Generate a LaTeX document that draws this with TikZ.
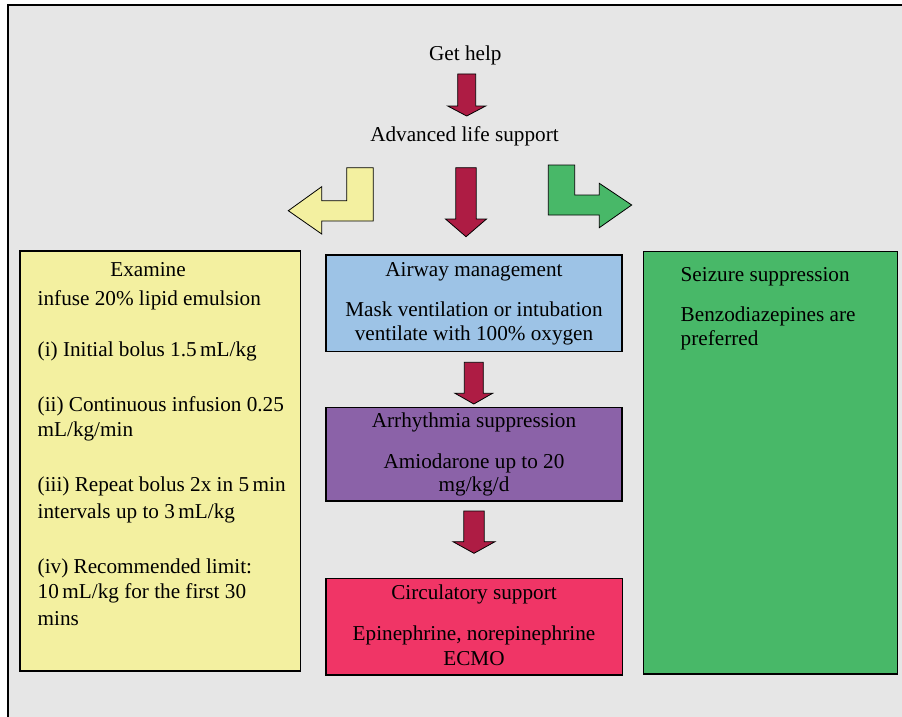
\documentclass[tikz,border=0pt]{standalone}
\usepackage{fontspec}
\setmainfont{Liberation Serif}
\definecolor{bgc}{RGB}{230,230,230}
\definecolor{yellowc}{RGB}{243,240,160}
\definecolor{bluec}{RGB}{157,195,230}
\definecolor{purplec}{RGB}{139,98,168}
\definecolor{pinkc}{RGB}{240,53,102}
\definecolor{greenc}{RGB}{72,184,104}
\definecolor{redc}{RGB}{174,28,68}
\tikzset{
  box/.style={draw=black, line width=1.2pt, inner sep=0pt, outer sep=0pt, anchor=north west},
  blockarrow/.style={draw=black, line width=0.8pt, line join=miter},
  lbl/.style={inner sep=0pt, outer sep=0pt, anchor=base},
  lblw/.style={inner sep=0pt, outer sep=0pt, anchor=base west}
}
\newcommand\blockdown[6]{% cx, top, headstart, tip, shaft half, head half
  \draw[blockarrow, fill=redc] ({#1-#5},#2) -- ({#1+#5},#2) -- ({#1+#5},#3) -- ({#1+#6},#3)
    -- (#1,#4) -- ({#1-#6},#3) -- ({#1-#5},#3) -- cycle;}
\begin{document}
\begin{tikzpicture}[x=1pt, y=-1pt, font=\fontsize{21.2}{25}\selectfont]
\useasboundingbox (0,0) rectangle (902,717);
\fill[white] (0,0) rectangle (902,717);
\fill[bgc] (8,5) rectangle (902,717);
\draw[line width=1.5pt] (8,717) -- (8,5) -- (902,5);

% top texts
\node[lbl] (gethelp) at (465.3,60.7) {Get help};
\node[lbl] (als) at (464.5,141.7) {Advanced life support};

% arrows
\blockdown{466.7}{74}{106}{116}{9}{19}
\blockdown{466}{167.7}{219}{236.7}{10.2}{20.5}
\blockdown{473.8}{362.3}{393.3}{404}{9.5}{18.8}
\blockdown{474}{511}{541.7}{553.3}{10.2}{21}

\draw[blockarrow, fill=yellowc] (373.3,167.7) -- (346.7,167.7) -- (346.7,200.7) -- (321.7,200.7)
  -- (321.7,186.7) -- (288.3,210.7) -- (321.7,234) -- (321.7,221) -- (373.3,221) -- cycle;
\draw[blockarrow, fill=greenc] (548.3,165) -- (574.7,165) -- (574.7,195) -- (599.3,195)
  -- (599.3,183.3) -- (631.7,205) -- (599.3,227.7) -- (599.3,215) -- (548.3,215) -- cycle;

% boxes
\node[box, fill=yellowc, minimum width=280.7pt, minimum height=420pt] (lipid) at (20,251) {};
\node[box, fill=bluec, minimum width=296pt, minimum height=96.7pt] (airway) at (326,255) {};
\node[box, fill=purplec, minimum width=296pt, minimum height=93.3pt] (arrhyth) at (326,407.7) {};
\node[box, fill=pinkc, minimum width=296.5pt, minimum height=96.7pt] (circ) at (326,578.3) {};
\node[box, fill=greenc, minimum width=254pt, minimum height=422.3pt] (seizure) at (643.3,251.7) {};

% yellow box text
\node[lbl] (y0) at (148,276) {Examine};
\node[lblw] (y1) at (37.7,305) {infuse 20\% lipid emulsion};
\node[lblw] (y2) at (37.7,356.7) {(i) Initial bolus 1.5\,mL/kg};
\node[lblw] (y3) at (37.7,411.7) {(ii) Continuous infusion 0.25};
\node[lblw] (y4) at (37.7,436) {mL/kg/min};
\node[lblw] (y5) at (37.7,491.7) {(iii) Repeat bolus 2x in 5\,min};
\node[lblw] (y6) at (37.7,518.3) {intervals up to 3\,mL/kg};
\node[lblw] (y7) at (37.7,573.3) {(iv) Recommended limit:};
\node[lblw] (y8) at (37.7,598.3) {10\,mL/kg for the first 30};
\node[lblw] (y9) at (37.7,625) {mins};

% blue box text
\node[lbl] (b1) at (474,276.7) {Airway management};
\node[lbl] (b2) at (474,316.7) {Mask ventilation or intubation};
\node[lbl] (b3) at (474,340.7) {ventilate with 100\% oxygen};

% purple box text
\node[lbl] (p1) at (474,427.3) {Arrhythmia suppression};
\node[lbl] (p2) at (474,468.3) {Amiodarone up to 20};
\node[lbl] (p3) at (474,491) {mg/kg/d};

% pink box text
\node[lbl] (c1) at (474,599.3) {Circulatory support};
\node[lbl] (c2) at (474,640.7) {Epinephrine, norepinephrine};
\node[lbl] (c3) at (474,665) {ECMO};

% green box text
\node[lblw] (g1) at (680.7,281.7) {Seizure suppression};
\node[lblw] (g2) at (680.7,321.7) {Benzodiazepines are};
\node[lblw] (g3) at (680.7,345) {preferred};
\end{tikzpicture}
\end{document}
